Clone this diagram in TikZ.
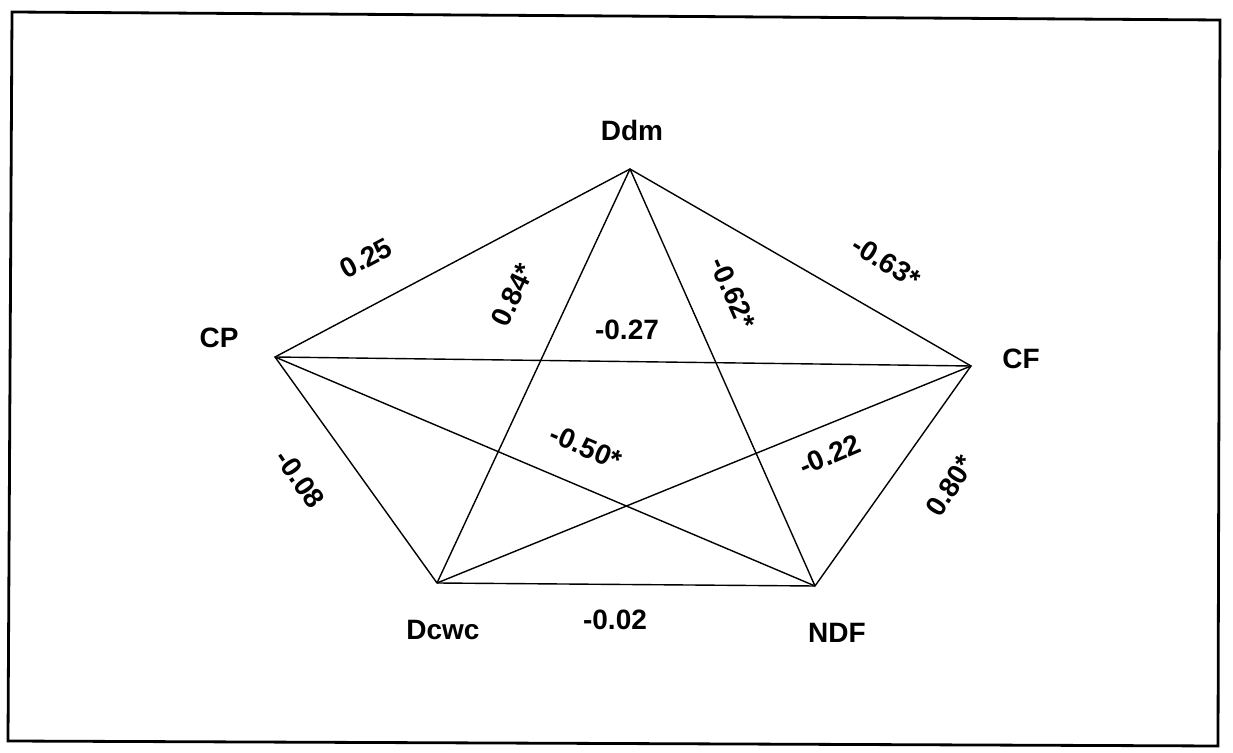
\documentclass[tikz,border=0pt]{standalone}
\usepackage{fontspec}
\setmainfont{Liberation Sans}
\begin{document}
\begin{tikzpicture}[x=0.5pt,y=-0.5pt,
  lbl/.style={font=\fontsize{14}{16}\selectfont\bfseries, inner sep=0pt},
  edge/.style={line width=0.7pt},
  frame/.style={line width=1.4pt}]
\useasboundingbox (0,0) rectangle (1233,753);
\draw[frame] (12,12) -- (1220,20) -- (1218,746) -- (8,741) -- cycle;
% vertices
\coordinate (ddm) at (630,169);
\coordinate (cp) at (275,357);
\coordinate (cf) at (971,366);
\coordinate (dcwc) at (437,583);
\coordinate (ndf) at (815,586);
% edges
\draw[edge] (cp) -- (ddm) -- (cf) -- (ndf) -- (dcwc) -- (cp) -- cycle;
\draw[edge] (ddm) -- (dcwc);
\draw[edge] (ddm) -- (ndf);
\draw[edge] (cp) -- (cf);
\draw[edge] (cp) -- (ndf);
\draw[edge] (dcwc) -- (cf);
% vertex labels
\node[lbl] (lddm) at (632,130) {Ddm};
\node[lbl] (lcp) at (219,338) {CP};
\node[lbl] (lcf) at (1021,359) {CF};
\node[lbl] (ldcwc) at (443,630) {Dcwc};
\node[lbl] (lndf) at (837,633) {NDF};
% edge labels
\node[lbl, rotate=28] (e1) at (366,258) {0.25};
\node[lbl, rotate=65] (e2) at (513,295) {0.84*};
\node[lbl] (e3) at (627,330) {-0.27};
\node[lbl, rotate=-66] (e4) at (733,293) {-0.62*};
\node[lbl, rotate=-32] (e5) at (886,262) {-0.63*};
\node[lbl, rotate=-23] (e6) at (586,447) {-0.50*};
\node[lbl, rotate=23] (e7) at (830,455) {-0.22};
\node[lbl, rotate=57] (e8) at (950,486) {0.80*};
\node[lbl, rotate=-55] (e9) at (300,479) {-0.08};
\node[lbl] (e10) at (615,620) {-0.02};
\end{tikzpicture}
\end{document}
